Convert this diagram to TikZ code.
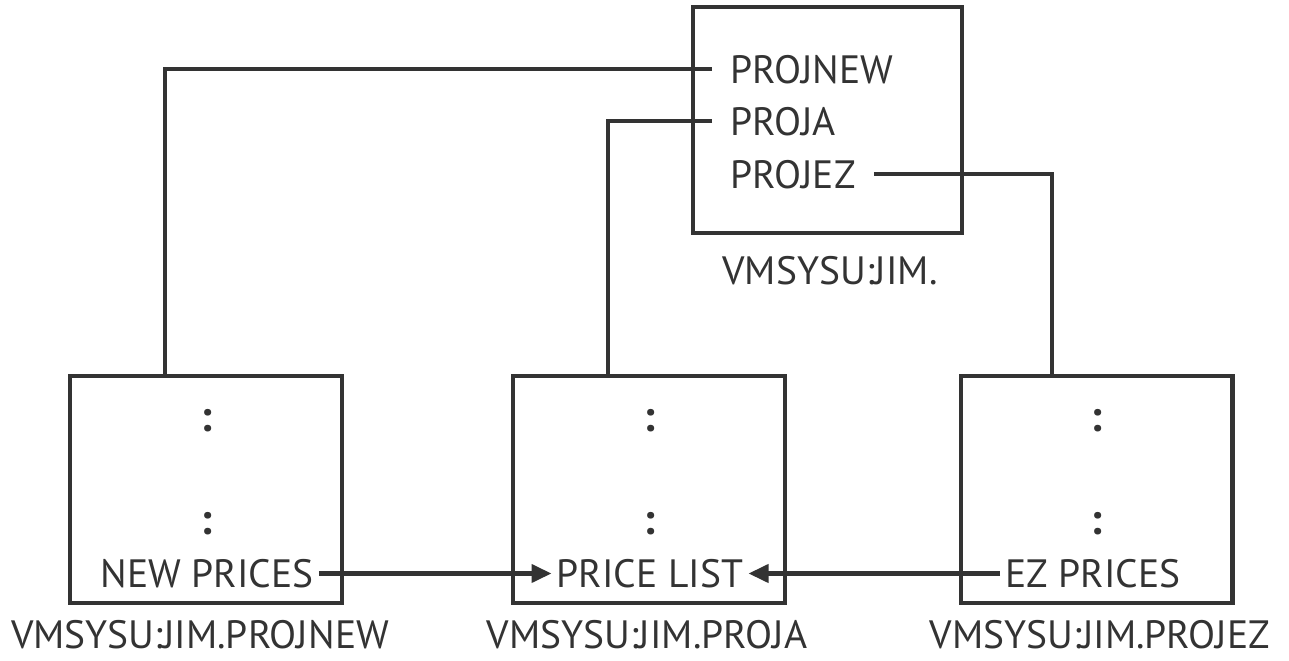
\documentclass[tikz,border=0pt]{standalone}
\usepackage{fontspec}
\setmainfont{PT Sans}
\usetikzlibrary{positioning,arrows.meta,calc}
\definecolor{ink}{RGB}{51,51,51}

\begin{document}
\begin{tikzpicture}[
  x=0.02cm, y=-0.02cm,
  every node/.style={font=\fontsize{22.5}{27}\selectfont, text=ink},
  filebox/.style={draw=ink, line width=2.3pt, minimum width=5.44cm, minimum height=4.54cm, inner sep=0pt},
  dirbox/.style={filebox, minimum width=5.38cm, minimum height=4.52cm},
  entry/.style={inner sep=0pt, inner xsep=0.36cm, text height=0.57cm, text depth=0pt},
  member/.style={entry, inner xsep=0.1cm},
  dots/.style={inner sep=0pt, anchor=base, font=\fontsize{25}{30}\selectfont\bfseries},
  caption/.style={inner sep=0pt, anchor=base},
  wire/.style={draw=ink, line width=2.3pt},
  arr/.style={wire, -{Triangle[length=4mm, width=3.6mm]}},
]
\useasboundingbox (0,0) rectangle (1289,661);

% directory box
\node[dirbox] (dir) at (827.5,120) {};
\node[entry, anchor=west] (projnew) at (712,69)  {PROJNEW};
\node[entry, anchor=west] (proja)   at (712,121) {PROJA};
\node[entry, anchor=west] (projez)  at (712,174) {PROJEZ};
\node[caption] (dircap) at (830,285) {VMSYSU:JIM.};

% file boxes
\node[filebox] (newbox)  at (206,489.5)  {};
\node[filebox] (listbox) at (649,489.5)  {};
\node[filebox] (ezbox)   at (1096.5,489.5) {};

\foreach \b in {newbox,listbox,ezbox} {
  \node[dots] (\b-top) at ($(\b.center)+(0,-58)$) {:};
  \node[dots] (\b-mid) at ($(\b.center)+(0,45)$)  {:};
}

\node[member] (newprices) at (207,573.5)  {NEW PRICES};
\node[member] (pricelist) at (650,573.5)  {PRICE LIST};
\node[member] (ezprices)  at (1093,573.5) {EZ PRICES};

\node[caption] (newcap)  at (200,649)  {VMSYSU:JIM.PROJNEW};
\node[caption] (listcap) at (647,649)  {VMSYSU:JIM.PROJA};
\node[caption] (ezcap)   at (1100,649) {VMSYSU:JIM.PROJEZ};

% links
\draw[wire] (projnew.west) -| ($(newbox.north)+(-41,0)$);
\draw[wire] (proja.west)   -| ($(listbox.north)+(-41,0)$);
\draw[wire] (projez.east)  -| ($(ezbox.north)+(-44.5,0)$);

\draw[arr] (newprices.east) -- (pricelist.west);
\draw[arr] (ezprices.west)  -- (pricelist.east);

\end{tikzpicture}
\end{document}
